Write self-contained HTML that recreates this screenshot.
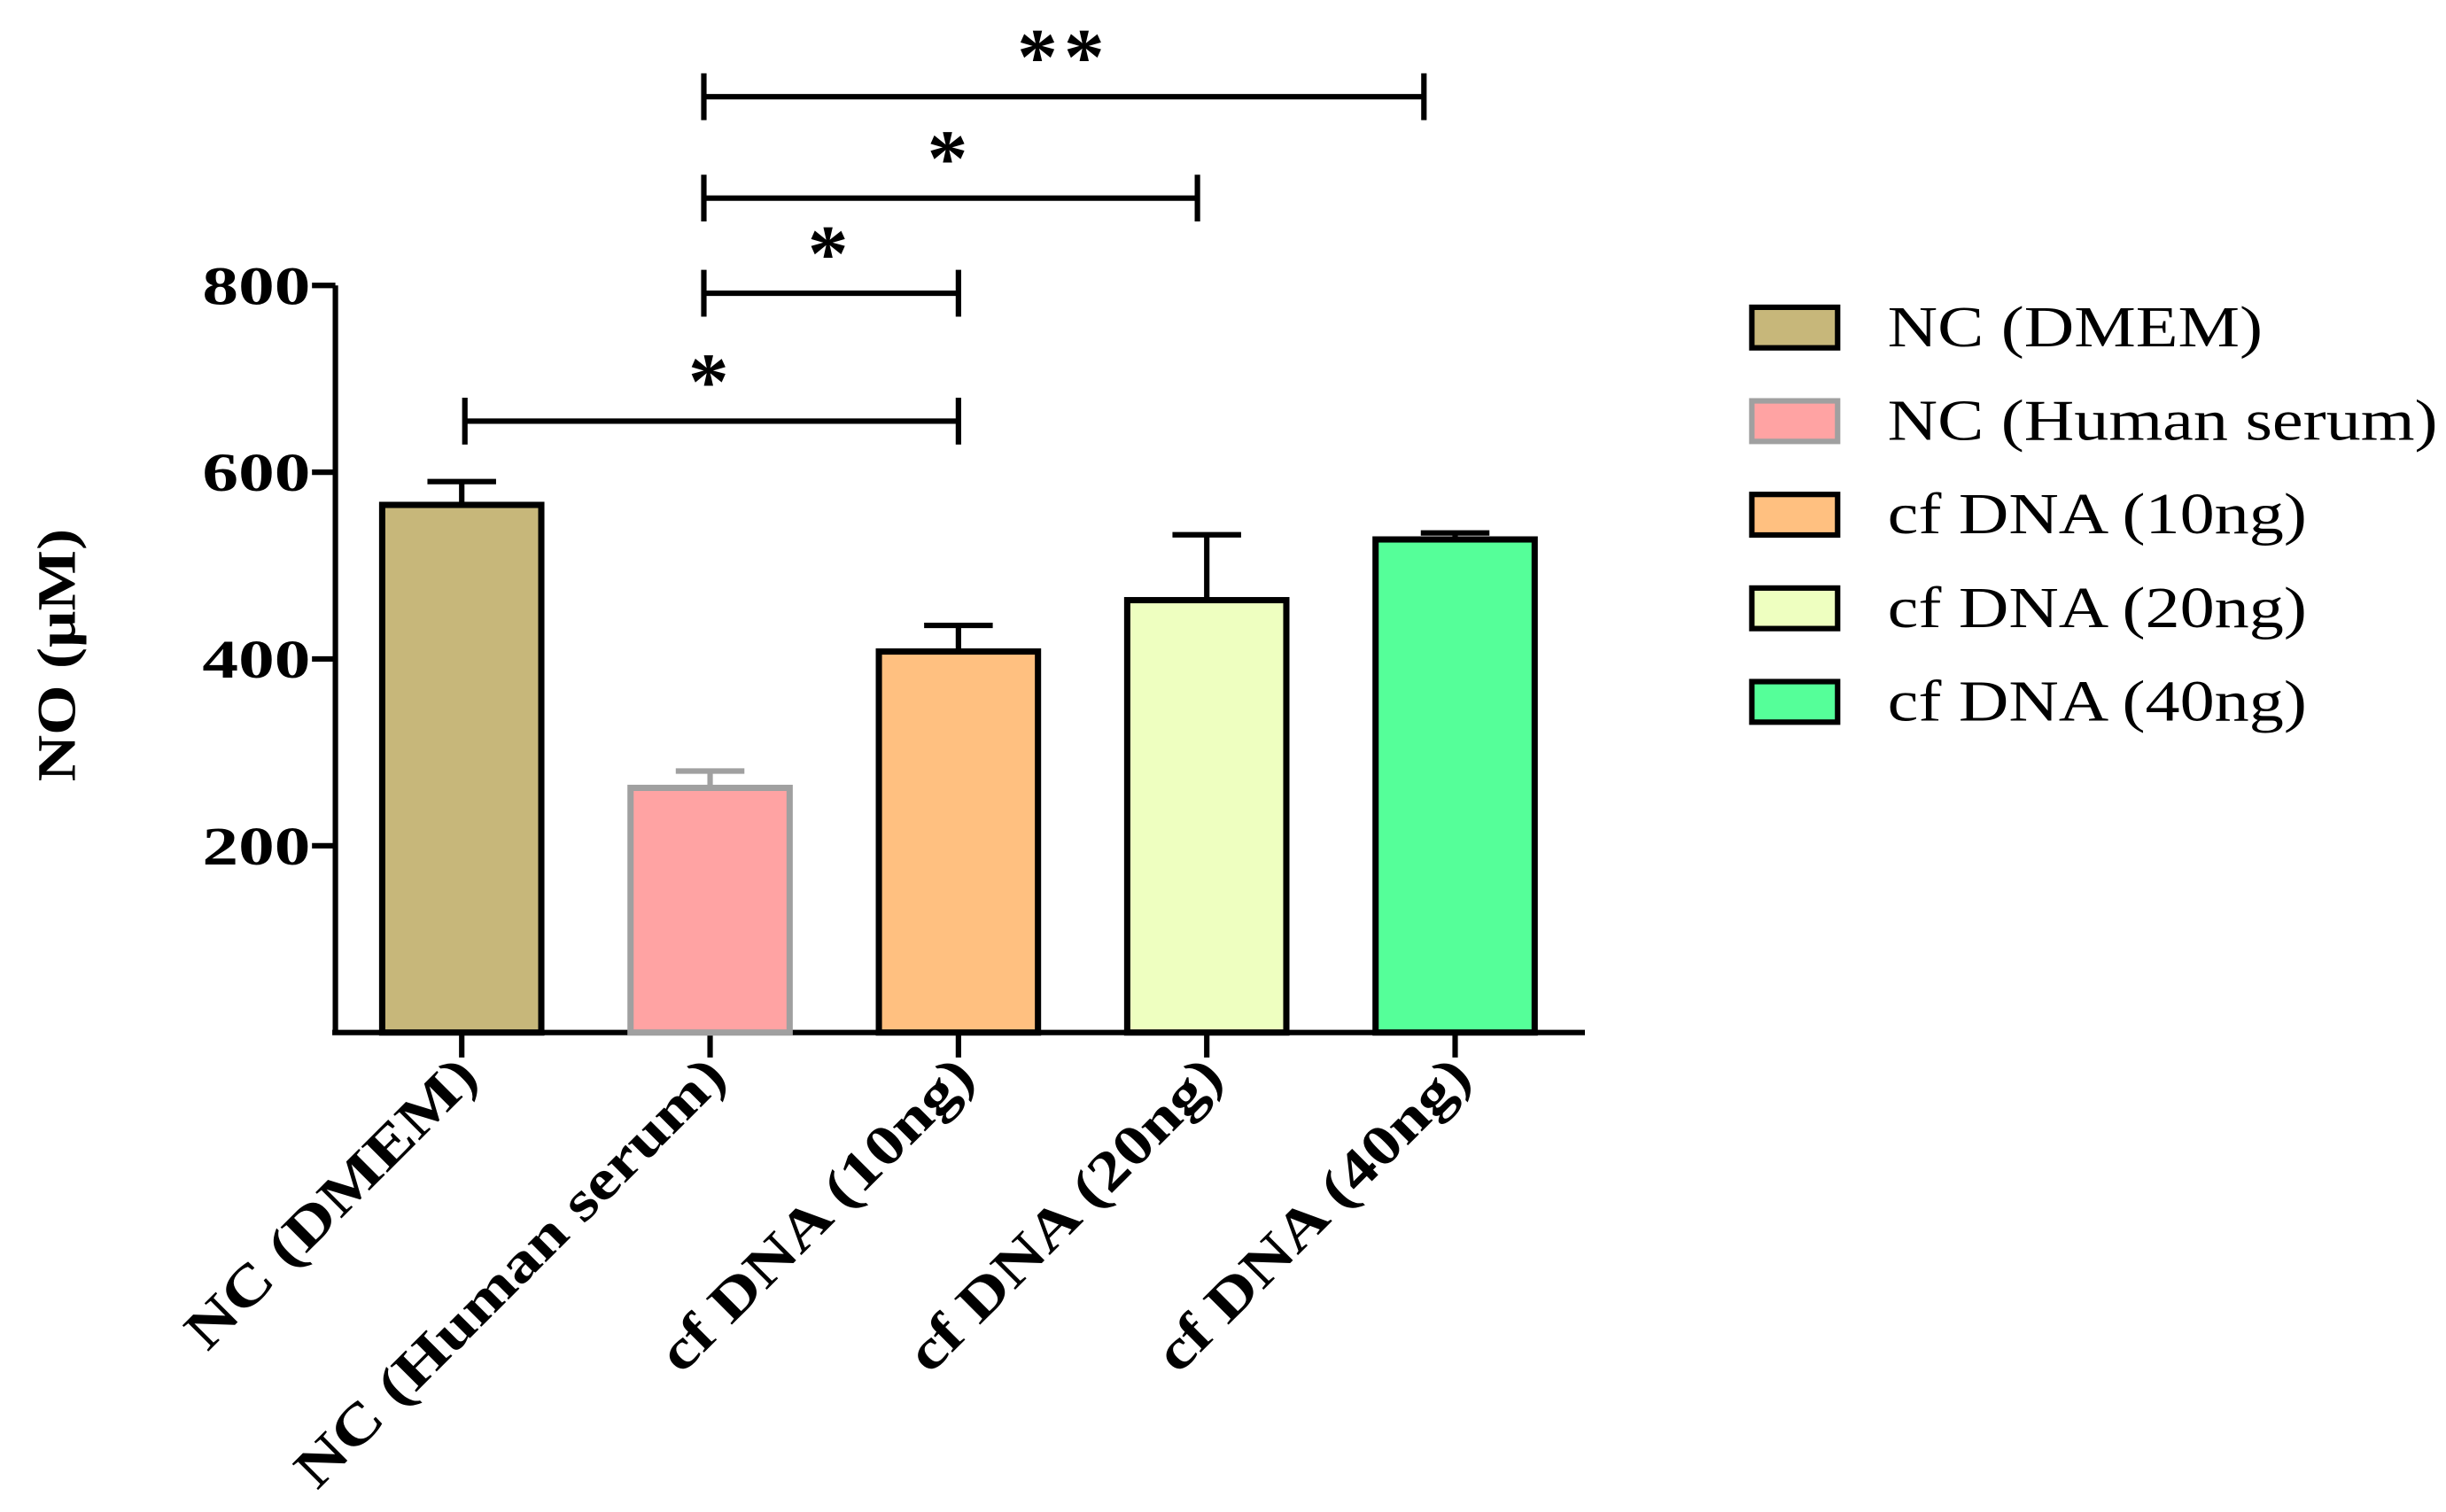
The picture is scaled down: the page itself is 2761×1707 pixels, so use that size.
<!DOCTYPE html>
<html><head><meta charset="utf-8"><style>
html,body{margin:0;padding:0;background:#fff;}
svg{display:block;}
text{font-family:"Liberation Serif",serif;}
</style></head><body>
<svg id="chart" width="2761" height="1707" viewBox="0 0 1568 969.4" xmlns="http://www.w3.org/2000/svg">
<g id="axes"></g>
<g id="bars"></g>
<g id="sig"></g>
<g id="legend"></g>
<text transform="translate(48,420) rotate(-90) scale(1.18,1)" text-anchor="middle" font-size="35" font-weight="bold">NO (μM)</text>
</svg>
<script>
const categories = ["NC (DMEM)","NC (Human serum)","cf DNA (10ng)","cf DNA (20ng)","cf DNA (40ng)"];
const values = [565, 262, 408, 463, 528];
const errors = [25, 18, 28, 70, 7];
const yTicks = [200, 400, 600, 800];
const fills = ["#c7b77a","#ffa3a3","#ffc080","#eeffc0","#55ff99"];
const strokes = ["#000","#a0a0a0","#000","#000","#000"];
const comparisons = [[0,2,"*"],[1,2,"*"],[1,3,"*"],[1,4,"**"]];
const NS="http://www.w3.org/2000/svg";
function el(t,a,p,txt){const e=document.createElementNS(NS,t);for(const k in a)e.setAttribute(k,a[k]);if(txt!==undefined)e.textContent=txt;p.appendChild(e);return e;}
const y0=662, yTop=183, ymax=800;
const y=v=>y0-(v/ymax)*(y0-yTop);
const x=i=>296+i*159.2;
const bw=102;
const axes=document.getElementById('axes');
let a=el('line',{x1:215,y1:183,x2:215,y2:663,stroke:'#000','stroke-width':3.5},axes);

a=el('line',{x1:213,y1:662,x2:1016,y2:662,stroke:'#000','stroke-width':3.5},axes);

yTicks.forEach(v=>{
 let t=el('line',{x1:200,y1:y(v),x2:215,y2:y(v),stroke:'#000','stroke-width':3.5},axes);
 
 let l=el('text',{transform:`translate(199,${y(v)+12}) scale(1.32,1)`,'text-anchor':'end','font-size':35,'font-weight':'bold'},axes,String(v));
 
});
categories.forEach((c,i)=>{
 let t=el('line',{x1:x(i),y1:662,x2:x(i),y2:678,stroke:'#000','stroke-width':3.5},axes);
 
 let l=el('text',{transform:`translate(${x(i)+12},${692}) rotate(-45) scale(1.22,1)`,'text-anchor':'end','font-size':36,'font-weight':'bold'},axes,c);
 
});
const bars=document.getElementById('bars');
values.forEach((v,i)=>{
 let e=el('line',{x1:x(i),y1:y(v),x2:x(i),y2:y(v+errors[i]),stroke:strokes[i],'stroke-width':3.5},bars);
 
 let c=el('line',{x1:x(i)-22,y1:y(v+errors[i]),x2:x(i)+22,y2:y(v+errors[i]),stroke:strokes[i],'stroke-width':3.5},bars);
 
 let r=el('rect',{x:x(i)-bw/2,y:y(v),width:bw,height:y0-y(v),fill:fills[i],stroke:strokes[i],'stroke-width':4},bars);
 
});
const sig=document.getElementById('sig');
const levels=[270,188,127,62];
comparisons.forEach((cmp,k)=>{
 const x1=x(cmp[0])+(cmp[0]==1?-4:2),x2=x(cmp[1])-(cmp[1]==4?20:cmp[1]==3?6:0),yy=levels[k];
 let g=el('path',{d:`M${x1},${yy-15}V${yy+15}M${x1},${yy}H${x2}M${x2},${yy-15}V${yy+15}`,stroke:'#000','stroke-width':3.5,fill:'none'},sig);
 
 let s=el('text',{x:(x1+x2)/2,y:yy-8,'text-anchor':'middle','font-size':52,'font-weight':'bold','font-family':'Liberation Sans, sans-serif','letter-spacing':4},sig,cmp[2]);
 
});
const lg=document.getElementById('legend');
categories.forEach((c,i)=>{
 const yy=210+i*60;
 let r=el('rect',{x:1123,y:yy-13,width:55,height:26,fill:fills[i],stroke:strokes[i],'stroke-width':3.5},lg);
 
 let t=el('text',{transform:`translate(1210,${yy+12}) scale(1.2,1)`,'font-size':37},lg,c);
 
});
</script>
</body></html>
